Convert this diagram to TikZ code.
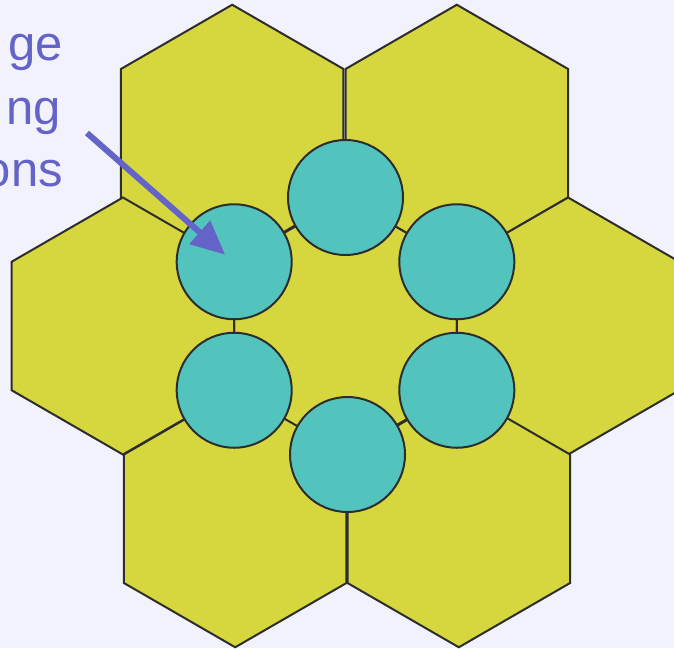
\documentclass[tikz,border=0pt]{standalone}
\usepackage{fontspec}
\setmainfont{Liberation Sans}
\usetikzlibrary{shapes.geometric,arrows.meta,calc}
\definecolor{bgc}{RGB}{242,242,252}
\definecolor{hexyellow}{RGB}{214,215,62}
\definecolor{padcyan}{RGB}{82,196,189}
\definecolor{edgec}{RGB}{45,45,45}
\definecolor{lblblue}{RGB}{100,100,200}
\begin{document}
\begin{tikzpicture}[x=1pt,y=-1pt,
  hexcell/.style={regular polygon, regular polygon sides=6, shape border rotate=30,
    minimum size=257pt, inner sep=0pt, outer sep=0pt, fill=hexyellow, draw=edgec, line width=2pt},
  pad/.style={circle, minimum size=115pt, inner sep=0pt, outer sep=0pt, fill=padcyan, draw=edgec, line width=2pt},
  lbl/.style={text=lblblue, font=\fontsize{49}{58}\selectfont, anchor=base east, inner sep=0pt},
  pointer/.style={draw=lblblue, line width=6pt, -{Triangle[length=34pt,width=30pt,fill=lblblue]}}]
\fill[bgc] (0,0) rectangle (674,648);
\useasboundingbox (0,0) rectangle (674,648);
% hexagon cells
\node[hexcell] (h0) at (345.5,326) {};
\node[hexcell] (h1) at (232.2,133.25) {};
\node[hexcell] (h2) at (456.8,133.25) {};
\node[hexcell] (h3) at (122.9,326) {};
\node[hexcell] (h4) at (568.1,326) {};
\node[hexcell] (h5) at (235.2,518.75) {};
\node[hexcell] (h6) at (458.8,518.75) {};
% circles at the vertices of the central cell
\node[pad] (p1) at (345.5,197.5) {};
\node[pad] (p2) at (234.2,261.75) {};
\node[pad] (p3) at (456.8,261.75) {};
\node[pad] (p4) at (234.2,390.25) {};
\node[pad] (p5) at (456.8,390.25) {};
\node[pad] (p6) at (347.5,454.5) {};
% label (cut off at the left edge, as in the reference)
\node[lbl] (l1) at (63,60) {ge};
\node[lbl] (l2) at (61,124) {ng};
\node[lbl] (l3) at (63,186) {ons};
\coordinate (as) at (87,133);
\coordinate (ae) at ($(p2)+(-9,-7)$);
\draw[pointer] (as) -- (ae);
\end{tikzpicture}
\end{document}
